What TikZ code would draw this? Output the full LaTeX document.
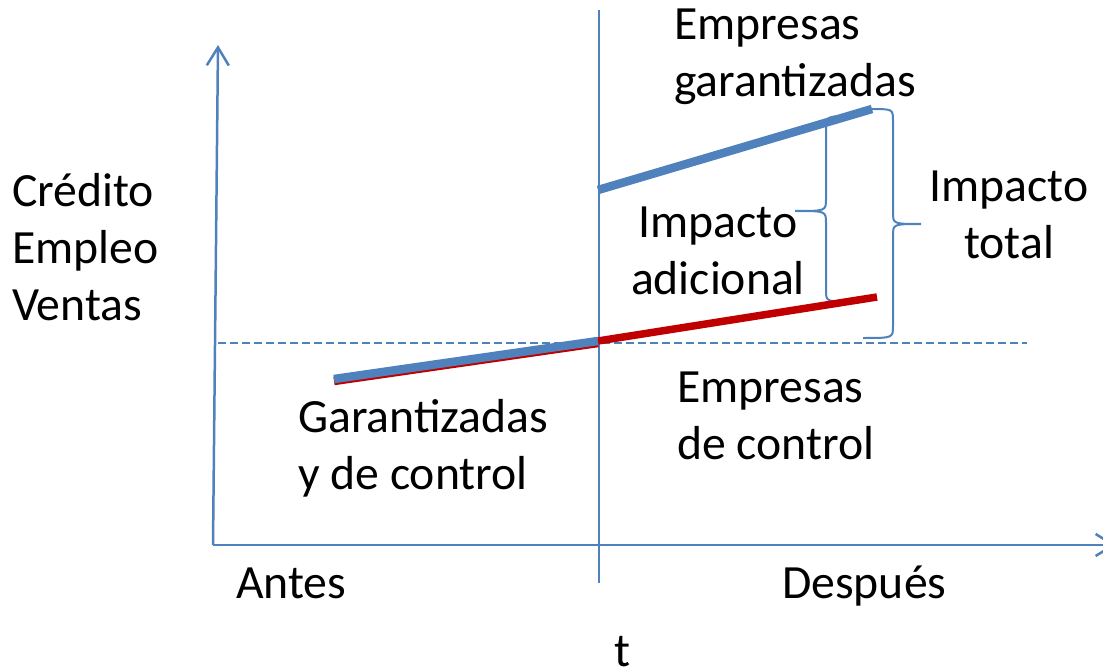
\documentclass[tikz,border=0pt]{standalone}
\usepackage{fontspec}
\setmainfont{Carlito}
\usetikzlibrary{arrows.meta}
\definecolor{obl}{HTML}{4F81BD}
\definecolor{ored}{HTML}{C00000}
\newcommand{\tl}[2]{\begin{tabular}[t]{@{}#1@{}}#2\end{tabular}}
\begin{document}
\begin{tikzpicture}[x=1pt,y=-1pt,
  axis/.style={draw=obl,line width=2.5pt},
  thin/.style={draw=obl,line width=1.8pt},
  brace/.style={draw=obl,line width=2pt},
  thick/.style={line width=8.5pt},
  lbl/.style={inner sep=0pt,font=\fontsize{47.7}{57}\selectfont,text=black}]
\useasboundingbox (0,0) rectangle (1103,671);
% coordinates
\coordinate (o) at (213,545);
\coordinate (ytop) at (218,45);
\coordinate (xend) at (1116,545);
\coordinate (vtop) at (599,10);
\coordinate (vbot) at (599,583);
\coordinate (dl) at (218,343);
\coordinate (dr) at (1027,343);
\coordinate (b0) at (334,379);
\coordinate (b1) at (598,341);
\coordinate (r0) at (334,381);
\coordinate (r1) at (598,343);
\coordinate (r2) at (877,297);
\coordinate (g0) at (598,190);
\coordinate (g1) at (872,109);
% axes
\draw[axis,-{Straight Barb[length=18pt,width=22pt,line width=2.5pt]}] (o) -- (ytop);
\draw[axis,-{Straight Barb[length=18pt,width=22pt,line width=2.5pt]}] (o) -- (xend);
\draw[thin] (vtop) -- (vbot);
\draw[draw=obl,line width=1.5pt,dash pattern=on 8pt off 4pt] (dl) -- (dr);
% braces
\draw[brace] (857,116) .. controls (826,116) and (826,116) .. (826,128)
  -- (826,199) .. controls (826,211) and (826,211) .. (795,211)
  .. controls (826,211) and (826,211) .. (826,223)
  -- (826,290) .. controls (826,302) and (826,302) .. (857,302);
\draw[brace] (870,109) .. controls (893,109) and (893,109) .. (893,121)
  -- (893,212) .. controls (893,224) and (893,224) .. (921,224)
  .. controls (893,224) and (893,224) .. (893,236)
  -- (893,326) .. controls (893,338) and (893,338) .. (863,338);
% data lines
\draw[ored,thick] (r0) -- (r1);
\draw[obl,thick] (b0) -- (b1);
\draw[ored,line width=7.5pt] (b1) -- (r2);
\draw[obl,thick] (g0) -- (g1);
% labels
\node[lbl,anchor=base west] (ylab) at (12,207) {\tl{l}{Crédito\\Empleo\\Ventas}};
\node[lbl,anchor=base west] (eg) at (674,40) {\tl{l}{Empresas\\garantizadas}};
\node[lbl,anchor=base] (ia) at (718,238) {\tl{c}{Impacto\\adicional}};
\node[lbl,anchor=base] (it) at (1009,202) {\tl{c}{Impacto\\total}};
\node[lbl,anchor=base west] (gc) at (298,432) {\tl{l}{Garantizadas\\y de control}};
\node[lbl,anchor=base west] (ec) at (677,402) {\tl{l}{Empresas\\de control}};
\node[lbl,anchor=base west] (antes) at (236,598) {Antes};
\node[lbl,anchor=base west] (desp) at (782,598) {Después};
\node[lbl,anchor=base] (t) at (622,666) {t};
\end{tikzpicture}
\end{document}
